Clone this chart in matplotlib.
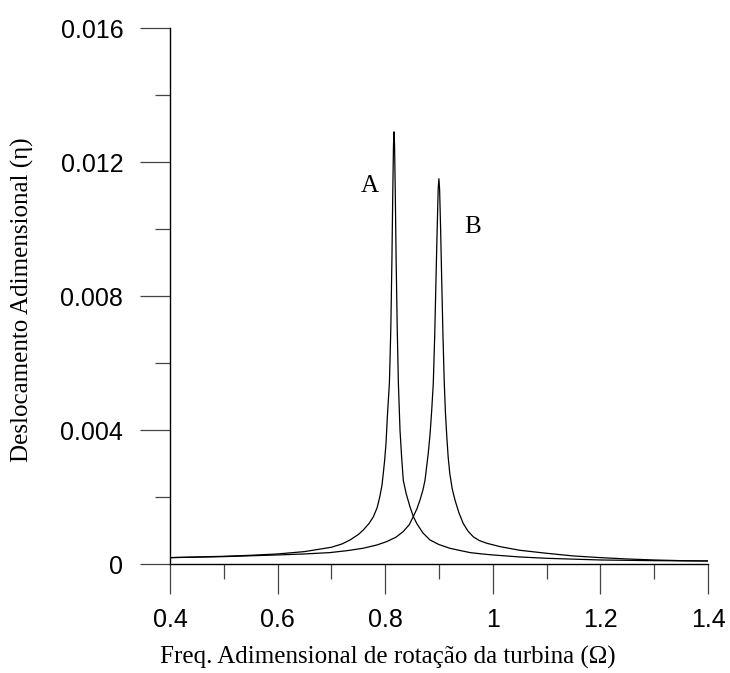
import numpy as np
import matplotlib.pyplot as plt
from matplotlib.ticker import MultipleLocator

# curva A (pico em ~0.816)
omega_a = [0.40, 0.45, 0.50, 0.55, 0.60, 0.65, 0.70, 0.72, 0.735, 0.75, 0.759, 0.770, 0.778,
           0.785, 0.790, 0.794, 0.7965, 0.799, 0.8015, 0.804, 0.8078, 0.8104, 0.8125, 0.814,
           0.8154, 0.8164, 0.8174, 0.8188, 0.8203, 0.8224, 0.8245, 0.8275, 0.8305, 0.8336,
           0.839, 0.846, 0.852, 0.8586, 0.870, 0.883, 0.900, 0.920, 0.940, 0.958, 0.980,
           1.0, 1.05, 1.1, 1.2, 1.3, 1.4]
eta_a = [0.00019, 0.00021, 0.00023, 0.00026, 0.00030, 0.00037, 0.00050, 0.00060, 0.00072,
         0.00088, 0.00101, 0.00121, 0.00141, 0.00168, 0.00201, 0.00235, 0.00271, 0.0031,
         0.0036, 0.0044, 0.0054, 0.0070, 0.0091, 0.0110, 0.0125, 0.0129, 0.0125, 0.0110,
         0.0091, 0.0070, 0.0054, 0.0040, 0.0032, 0.0025, 0.0021, 0.00171, 0.00143, 0.00121,
         0.00093, 0.00072, 0.00058, 0.00047, 0.00040, 0.00034, 0.00030, 0.00027, 0.00021,
         0.00017, 0.00012, 0.00010, 0.00009]

# curva B (pico em ~0.900)
omega_b = [0.40, 0.50, 0.60, 0.65, 0.697, 0.73, 0.759, 0.785, 0.803, 0.82, 0.8336, 0.845,
           0.852, 0.859, 0.8647, 0.870, 0.874, 0.877, 0.880, 0.8835, 0.8865, 0.8894, 0.8920,
           0.8944, 0.8966, 0.8985, 0.8998, 0.9011, 0.9030, 0.9050, 0.9074, 0.9098, 0.912,
           0.9145, 0.917, 0.920, 0.9245, 0.9297, 0.937, 0.945, 0.954, 0.9638, 0.975, 0.9887,
           1.013, 1.05, 1.1, 1.15, 1.2, 1.25, 1.3, 1.35, 1.4]
eta_b = [0.00019, 0.00022, 0.00027, 0.00030, 0.00034, 0.00040, 0.00047, 0.00057, 0.00067,
         0.00080, 0.00097, 0.00118, 0.00141, 0.00165, 0.00191, 0.00220, 0.0025, 0.0029,
         0.0033, 0.0039, 0.0046, 0.0054, 0.0068, 0.0085, 0.0100, 0.0112, 0.0115, 0.0112,
         0.0100, 0.0085, 0.0068, 0.0054, 0.0045, 0.0038, 0.0032, 0.00271, 0.00225, 0.00191,
         0.00153, 0.00121, 0.00098, 0.00081, 0.00070, 0.00062, 0.00052, 0.00041, 0.00032,
         0.00024, 0.00019, 0.00015, 0.00012, 0.00010, 0.00009]

xticks = [0.4, 0.6, 0.8, 1.0, 1.2, 1.4]
xticklabels = ["0.4", "0.6", "0.8", "1", "1.2", "1.4"]
yticks = [0, 0.004, 0.008, 0.012, 0.016]
yticklabels = ["0", "0.004", "0.008", "0.012", "0.016"]

fig = plt.figure(figsize=(7.3, 6.73), dpi=100)
ax = fig.add_axes([170/730, 109/673, 538/730, 536/673])

ax.plot(omega_a, eta_a, color="black", lw=0.9)
ax.plot(omega_b, eta_b, color="black", lw=0.9)

ax.text(0.7717, 0.01128, "A", family="Liberation Serif", fontsize=18, ha="center", va="center")
ax.text(0.963, 0.01006, "B", family="Liberation Serif", fontsize=18, ha="center", va="center")

ax.set_xlim(0.4, 1.4)
ax.set_ylim(0, 0.016)
ax.spines["top"].set_visible(False)
ax.spines["right"].set_visible(False)
for s in ["left", "bottom"]:
    ax.spines[s].set_linewidth(1.0)

ax.set_xticks(xticks)
ax.set_xticklabels(xticklabels, family="Liberation Sans", fontsize=18)
ax.set_yticks(yticks)
ax.set_yticklabels(yticklabels, family="Liberation Sans", fontsize=18)
ax.xaxis.set_minor_locator(MultipleLocator(0.1))
ax.yaxis.set_minor_locator(MultipleLocator(0.002))
ax.tick_params(which="major", direction="out", length=21.6, width=0.9, color="#444444")
ax.tick_params(which="minor", direction="out", length=10.8, width=0.9, color="#444444")
ax.tick_params(axis="y", which="major", pad=12)
ax.tick_params(axis="x", which="major", pad=10)

ax.set_xlabel("Freq. Adimensional de rotação da turbina (\u03a9)", family="Liberation Serif", fontsize=18)
ax.set_ylabel("Deslocamento Adimensional (\u03b7)", family="Liberation Serif", fontsize=18)
ax.xaxis.set_label_coords((388 - 170) / 538, (564 - 646) / 536)
ax.yaxis.set_label_coords((34 - 170) / 538, (564 - 300) / 536)

plt.savefig("out.png", dpi=100)
